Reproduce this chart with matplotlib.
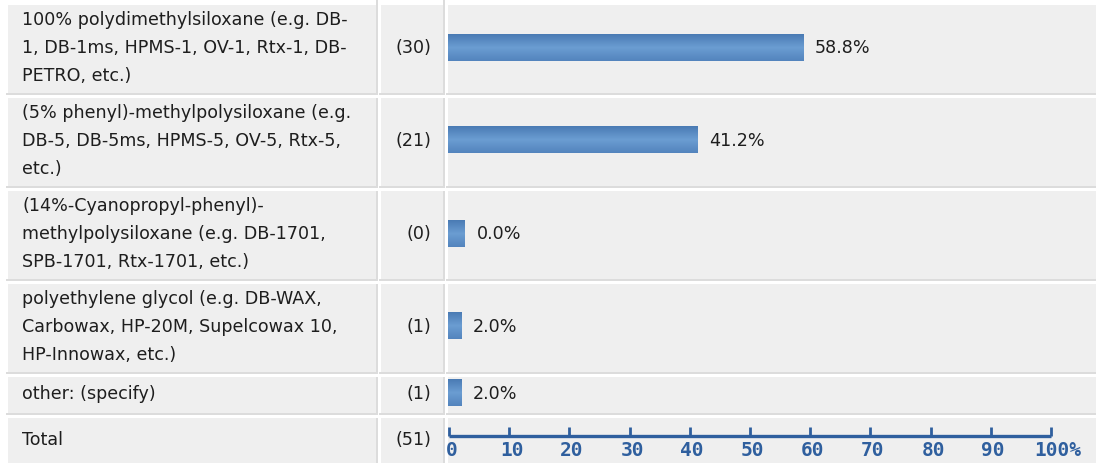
import numpy as np
import matplotlib.pyplot as plt
from matplotlib.patches import Rectangle
from matplotlib.colors import LinearSegmentedColormap

#### survey results: GC column stationary phases

labels = [
    '100% polydimethylsiloxane (e.g. DB-\n1, DB-1ms, HPMS-1, OV-1, Rtx-1, DB-\nPETRO, etc.)',
    '(5% phenyl)-methylpolysiloxane (e.g.\nDB-5, DB-5ms, HPMS-5, OV-5, Rtx-5,\netc.)',
    '(14%-Cyanopropyl-phenyl)-\nmethylpolysiloxane (e.g. DB-1701,\nSPB-1701, Rtx-1701, etc.)',
    'polyethylene glycol (e.g. DB-WAX,\nCarbowax, HP-20M, Supelcowax 10,\nHP-Innowax, etc.)',
    'other: (specify)',
]
counts = [30, 21, 0, 1, 1]
percents = [58.8, 41.2, 0.0, 2.0, 2.0]
total_label = 'Total'
total_count = 51
axis_ticks = [0, 10, 20, 30, 40, 50, 60, 70, 80, 90, 100]
axis_ticklabels = ['0', '10', '20', '30', '40', '50', '60', '70', '80', '90', '100%']

# layout in pixels (table rows / columns)
W, H = 1096, 464
row_tops = [6, 99, 192, 285, 378, 419]
row_heights = [90, 90, 90, 90, 38, 60]
cols = [(8, 378), (381, 445), (448, 1110)]
zero_px, hundred_px = 449, 1051
MIN_BAR = 2.6  # zero bars still drawn as a stub

cell_bg = '#efefef'
border = '#dcdcdc'
txt = '#1e1e1e'
axis_col = '#2f5f9e'
plt.rcParams['font.family'] = ['DejaVu Sans']
fs = 12.6

fig = plt.figure(figsize=(W / 100, H / 100), dpi=100)
bg = fig.add_axes([0, 0, 1, 1])
bg.set_xlim(0, W)
bg.set_ylim(H, 0)
bg.axis('off')

# cells
for i, (top, h) in enumerate(zip(row_tops, row_heights)):
    for (x0, x1) in cols:
        bg.add_patch(Rectangle((x0, top), x1 - x0, h, fc=cell_bg, ec='none'))
        bg.add_patch(Rectangle((x0 - 2, top + h - 2), x1 - x0 + 2, 2, fc=border, ec='none'))
        ytop = 0 if i == 0 else top
        bg.add_patch(Rectangle((x1 - 2, ytop), 2, top + h - ytop, fc=border, ec='none'))

def centre(i):
    return row_tops[i] + (row_heights[i] - 2) / 2 - 2

# label + count text
all_labels = labels + [total_label]
all_counts = counts + [total_count]
for i, (lab, c) in enumerate(zip(all_labels, all_counts)):
    yc = centre(i) if i < 5 else row_tops[i] + 21
    lines = lab.split('\n')
    n = len(lines)
    for k, line in enumerate(lines):
        bg.text(22, yc + (k - (n - 1) / 2) * 28, line, fontsize=fs, color=txt,
                ha='left', va='center')
    bg.text(431, yc, f'({c})', fontsize=fs, color=txt, ha='right', va='center')

# bars
ax = fig.add_axes([0, 0, 1, 1])
ax.patch.set_alpha(0)
ax.axis('off')
scale = (hundred_px - zero_px) / 100.0
xl = (-zero_px / scale, (W - zero_px) / scale)

cmap = LinearSegmentedColormap.from_list('bar', ['#5384bd', '#6b9dd2', '#4a7bb4'])
grad = np.linspace(0, 1, 64).reshape(-1, 1)
bar_h = 27
for i, p in enumerate(percents):
    yc = centre(i)
    w = p if p > 0 else MIN_BAR
    ax.imshow(grad, extent=(-0.2, w, yc - bar_h / 2, yc + bar_h / 2),
              aspect='auto', cmap=cmap, origin='upper', interpolation='bilinear')
    ax.annotate(f'{p:.1f}%', (w, yc), xytext=(12, 0), textcoords='offset pixels',
                fontsize=fs, color=txt, ha='left', va='center')

# axis scale in the total row
ay = 437
ax.plot([axis_ticks[0], axis_ticks[-1]], [ay, ay], color=axis_col, lw=2.4,
        solid_capstyle='butt')
for t, lab in zip(axis_ticks, axis_ticklabels):
    ax.plot([t, t], [ay, 428], color=axis_col, lw=2.0, solid_capstyle='butt')
    dx = 1.1 if lab.endswith('%') else 0.4
    ax.text(t + dx, 451, lab, fontsize=14, color=axis_col, ha='center', va='center',
            family='DejaVu Sans Mono', fontweight='bold')

ax.set_xlim(*xl)
ax.set_ylim(H, 0)

fig.savefig('out.png', dpi=100)
